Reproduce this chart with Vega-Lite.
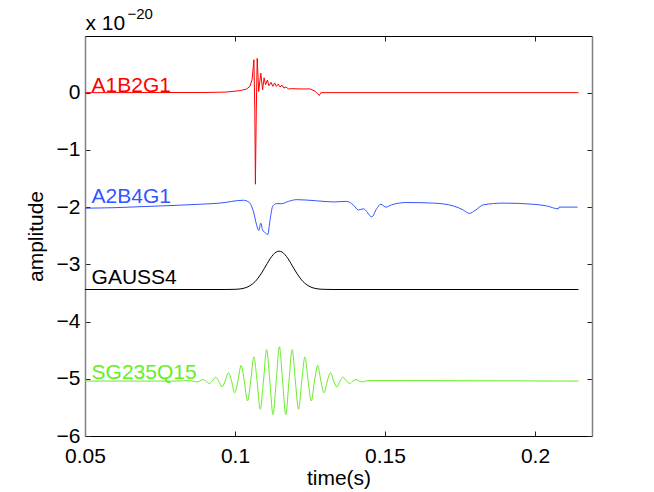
{
 "$schema": "https://vega.github.io/schema/vega-lite/v6.json",
 "width": 507, "height": 400,
 "autosize": "none",
 "padding": {"left": 85, "top": 36, "right": 62, "bottom": 56},
 "background": "white",
 "config": {"view": {"stroke": null}, "axis": {"grid": false, "labelFont": "Liberation Sans", "labelFontSize": 21, "labelColor": "black", "titleFont": "Liberation Sans", "titleFontSize": 21, "titleFontWeight": "normal", "titleColor": "black", "tickColor": "#222222", "tickSize": -5, "labelFlush": false, "labelOverlap": false}},
 "datasets": {
  "lines": [
   {"s":"A1B2G1","t":0.05,"v":0},{"s":"A1B2G1","t":0.09,"v":0.003},{"s":"A1B2G1","t":0.097,"v":0.01},{"s":"A1B2G1","t":0.1017,"v":0.035},{"s":"A1B2G1","t":0.1039,"v":0.065},{"s":"A1B2G1","t":0.105,"v":0.11},{"s":"A1B2G1","t":0.1057,"v":0.23},{"s":"A1B2G1","t":0.1061,"v":0.46},{"s":"A1B2G1","t":0.1063,"v":0.575},{"s":"A1B2G1","t":0.1066,"v":-0.3},{"s":"A1B2G1","t":0.1068,"v":-1.6},{"s":"A1B2G1","t":0.1071,"v":-0.3},{"s":"A1B2G1","t":0.1074,"v":0.6},{"s":"A1B2G1","t":0.1079,"v":0.02},{"s":"A1B2G1","t":0.1086,"v":0.34},{"s":"A1B2G1","t":0.1092,"v":0.05},{"s":"A1B2G1","t":0.1097,"v":0.26},{"s":"A1B2G1","t":0.1102,"v":0.14},{"s":"A1B2G1","t":0.1108,"v":0.22},{"s":"A1B2G1","t":0.1113,"v":0.12},{"s":"A1B2G1","t":0.112,"v":0.18},{"s":"A1B2G1","t":0.1126,"v":0.11},{"s":"A1B2G1","t":0.1132,"v":0.17},{"s":"A1B2G1","t":0.1138,"v":0.11},{"s":"A1B2G1","t":0.1144,"v":0.15},{"s":"A1B2G1","t":0.115,"v":0.1},{"s":"A1B2G1","t":0.1157,"v":0.13},{"s":"A1B2G1","t":0.1163,"v":0.08},{"s":"A1B2G1","t":0.117,"v":0.1},{"s":"A1B2G1","t":0.1178,"v":0.065},{"s":"A1B2G1","t":0.1189,"v":0.07},{"s":"A1B2G1","t":0.1217,"v":0.065},{"s":"A1B2G1","t":0.125,"v":0.065},{"s":"A1B2G1","t":0.1267,"v":0.025},{"s":"A1B2G1","t":0.1281,"v":-0.05},{"s":"A1B2G1","t":0.1286,"v":0},{"s":"A1B2G1","t":0.2145,"v":0},

   {"s":"A2B4G1","t":0.05,"v":-2.02},{"s":"A2B4G1","t":0.06,"v":-2.01},{"s":"A2B4G1","t":0.07,"v":-1.99},{"s":"A2B4G1","t":0.08,"v":-1.97},{"s":"A2B4G1","t":0.0883,"v":-1.95},{"s":"A2B4G1","t":0.095,"v":-1.93},{"s":"A2B4G1","t":0.1028,"v":-1.88},{"s":"A2B4G1","t":0.1048,"v":-1.92},{"s":"A2B4G1","t":0.1061,"v":-2.07},{"s":"A2B4G1","t":0.1072,"v":-2.31},{"s":"A2B4G1","t":0.1079,"v":-2.41},{"s":"A2B4G1","t":0.1086,"v":-2.28},{"s":"A2B4G1","t":0.1092,"v":-2.4},{"s":"A2B4G1","t":0.1101,"v":-2.45},{"s":"A2B4G1","t":0.1109,"v":-2.48},{"s":"A2B4G1","t":0.1117,"v":-2.22},{"s":"A2B4G1","t":0.1126,"v":-1.98},{"s":"A2B4G1","t":0.1139,"v":-1.94},{"s":"A2B4G1","t":0.1156,"v":-1.94},{"s":"A2B4G1","t":0.1178,"v":-1.9},{"s":"A2B4G1","t":0.1206,"v":-1.87},{"s":"A2B4G1","t":0.1272,"v":-1.89},{"s":"A2B4G1","t":0.1328,"v":-1.91},{"s":"A2B4G1","t":0.1372,"v":-1.9},{"s":"A2B4G1","t":0.1394,"v":-1.96},{"s":"A2B4G1","t":0.1411,"v":-2.05},{"s":"A2B4G1","t":0.1428,"v":-2.03},{"s":"A2B4G1","t":0.1456,"v":-2.17},{"s":"A2B4G1","t":0.1472,"v":-2.03},{"s":"A2B4G1","t":0.1486,"v":-1.95},{"s":"A2B4G1","t":0.1503,"v":-2.0},{"s":"A2B4G1","t":0.1522,"v":-1.96},{"s":"A2B4G1","t":0.1572,"v":-1.92},{"s":"A2B4G1","t":0.1661,"v":-1.93},{"s":"A2B4G1","t":0.1728,"v":-1.98},{"s":"A2B4G1","t":0.1761,"v":-2.05},{"s":"A2B4G1","t":0.1781,"v":-2.11},{"s":"A2B4G1","t":0.18,"v":-2.06},{"s":"A2B4G1","t":0.1828,"v":-1.96},{"s":"A2B4G1","t":0.1894,"v":-1.93},{"s":"A2B4G1","t":0.1994,"v":-1.95},{"s":"A2B4G1","t":0.2039,"v":-1.98},{"s":"A2B4G1","t":0.2078,"v":-2.03},{"s":"A2B4G1","t":0.208,"v":-2.0},{"s":"A2B4G1","t":0.2142,"v":-2.0},

   {"s":"GAUSS4","t":0.05,"v":-3.44},{"s":"GAUSS4","t":0.0967,"v":-3.44},{"s":"GAUSS4","t":0.0997,"v":-3.437},{"s":"GAUSS4","t":0.1017,"v":-3.43},{"s":"GAUSS4","t":0.1027,"v":-3.421},{"s":"GAUSS4","t":0.1037,"v":-3.406},{"s":"GAUSS4","t":0.1047,"v":-3.383},{"s":"GAUSS4","t":0.1057,"v":-3.349},{"s":"GAUSS4","t":0.1067,"v":-3.302},{"s":"GAUSS4","t":0.1077,"v":-3.24},{"s":"GAUSS4","t":0.1087,"v":-3.165},{"s":"GAUSS4","t":0.1097,"v":-3.079},{"s":"GAUSS4","t":0.1107,"v":-2.989},{"s":"GAUSS4","t":0.1117,"v":-2.903},{"s":"GAUSS4","t":0.1127,"v":-2.833},{"s":"GAUSS4","t":0.1137,"v":-2.786},{"s":"GAUSS4","t":0.1147,"v":-2.77},{"s":"GAUSS4","t":0.1157,"v":-2.786},{"s":"GAUSS4","t":0.1167,"v":-2.833},{"s":"GAUSS4","t":0.1177,"v":-2.903},{"s":"GAUSS4","t":0.1187,"v":-2.989},{"s":"GAUSS4","t":0.1197,"v":-3.079},{"s":"GAUSS4","t":0.1207,"v":-3.165},{"s":"GAUSS4","t":0.1217,"v":-3.24},{"s":"GAUSS4","t":0.1227,"v":-3.302},{"s":"GAUSS4","t":0.1237,"v":-3.349},{"s":"GAUSS4","t":0.1247,"v":-3.383},{"s":"GAUSS4","t":0.1257,"v":-3.406},{"s":"GAUSS4","t":0.1267,"v":-3.421},{"s":"GAUSS4","t":0.1277,"v":-3.43},{"s":"GAUSS4","t":0.1297,"v":-3.437},{"s":"GAUSS4","t":0.1327,"v":-3.44},{"s":"GAUSS4","t":0.2145,"v":-3.44},

   {"s":"SG235Q15","t":0.05,"v":-5.04},{"s":"SG235Q15","t":0.08,"v":-5.04},
   {"s":"SG235Q15","t":0.085013,"v":-5.032},{"s":"SG235Q15","t":0.086077,"v":-5.04},{"s":"SG235Q15","t":0.087141,"v":-5.055},{"s":"SG235Q15","t":0.088205,"v":-5.04},{"s":"SG235Q15","t":0.089268,"v":-5.014},{"s":"SG235Q15","t":0.090332,"v":-5.04},{"s":"SG235Q15","t":0.091396,"v":-5.082},{"s":"SG235Q15","t":0.09246,"v":-5.04},{"s":"SG235Q15","t":0.093523,"v":-4.973},{"s":"SG235Q15","t":0.094587,"v":-5.04},{"s":"SG235Q15","t":0.095651,"v":-5.142},{"s":"SG235Q15","t":0.096715,"v":-5.04},{"s":"SG235Q15","t":0.097779,"v":-4.893},{"s":"SG235Q15","t":0.098843,"v":-5.04},{"s":"SG235Q15","t":0.099906,"v":-5.245},{"s":"SG235Q15","t":0.10097,"v":-5.04},{"s":"SG235Q15","t":0.102034,"v":-4.768},{"s":"SG235Q15","t":0.103098,"v":-5.04},{"s":"SG235Q15","t":0.104162,"v":-5.387},{"s":"SG235Q15","t":0.105226,"v":-5.04},{"s":"SG235Q15","t":0.106289,"v":-4.618},{"s":"SG235Q15","t":0.107353,"v":-5.04},{"s":"SG235Q15","t":0.108417,"v":-5.533},{"s":"SG235Q15","t":0.109481,"v":-5.04},{"s":"SG235Q15","t":0.110545,"v":-4.49},{"s":"SG235Q15","t":0.111609,"v":-5.04},{"s":"SG235Q15","t":0.112672,"v":-5.627},{"s":"SG235Q15","t":0.113736,"v":-5.04},{"s":"SG235Q15","t":0.1148,"v":-4.44},{"s":"SG235Q15","t":0.115864,"v":-5.04},{"s":"SG235Q15","t":0.116928,"v":-5.627},{"s":"SG235Q15","t":0.117991,"v":-5.04},{"s":"SG235Q15","t":0.119055,"v":-4.49},{"s":"SG235Q15","t":0.120119,"v":-5.04},{"s":"SG235Q15","t":0.121183,"v":-5.533},{"s":"SG235Q15","t":0.122247,"v":-5.04},{"s":"SG235Q15","t":0.123311,"v":-4.618},{"s":"SG235Q15","t":0.124374,"v":-5.04},{"s":"SG235Q15","t":0.125438,"v":-5.387},{"s":"SG235Q15","t":0.126502,"v":-5.04},{"s":"SG235Q15","t":0.127566,"v":-4.768},{"s":"SG235Q15","t":0.12863,"v":-5.04},{"s":"SG235Q15","t":0.129694,"v":-5.245},{"s":"SG235Q15","t":0.130757,"v":-5.04},{"s":"SG235Q15","t":0.131821,"v":-4.893},{"s":"SG235Q15","t":0.132885,"v":-5.04},{"s":"SG235Q15","t":0.133949,"v":-5.142},{"s":"SG235Q15","t":0.135013,"v":-5.04},{"s":"SG235Q15","t":0.136077,"v":-4.973},{"s":"SG235Q15","t":0.13714,"v":-5.04},{"s":"SG235Q15","t":0.138204,"v":-5.082},{"s":"SG235Q15","t":0.139268,"v":-5.04},{"s":"SG235Q15","t":0.140332,"v":-5.014},{"s":"SG235Q15","t":0.141396,"v":-5.04},{"s":"SG235Q15","t":0.14246,"v":-5.055},{"s":"SG235Q15","t":0.143523,"v":-5.04},{"s":"SG235Q15","t":0.144587,"v":-5.032},{"s":"SG235Q15","t":0.2145,"v":-5.04}
  ],
  "labels": [
   {"s":"A1B2G1","t":0.0522,"v":0.01},
   {"s":"A2B4G1","t":0.0522,"v":-1.93},
   {"s":"GAUSS4","t":0.0522,"v":-3.34},
   {"s":"SG235Q15","t":0.0522,"v":-5.0}
  ]
 },
 "resolve": {"axis": {"x": "independent", "y": "independent"}},
 "layer": [
  {
   "data": {"name": "lines"},
   "transform": [{"filter": "datum.s === 'A1B2G1'"}],
   "mark": {"type": "line", "strokeWidth": 1, "interpolate": "linear"},
   "encoding": {
    "x": {"field": "t", "type": "quantitative", "scale": {"domain": [0.05, 0.219], "nice": false, "zero": false},
          "axis": {"orient": "bottom", "values": [0.05, 0.1, 0.15, 0.2], "format": "~g", "title": "time(s)", "domainColor": "black", "labelPadding": 14, "titlePadding": 1}},
    "y": {"field": "v", "type": "quantitative", "scale": {"domain": [-6, 0.99], "nice": false, "zero": false},
          "axis": {"orient": "left", "values": [-6, -5, -4, -3, -2, -1, 0], "title": "amplitude", "domainColor": "#808080", "domainWidth": 1.5, "labelPadding": 10, "titlePadding": 10}},
    "color": {"field": "s", "type": "nominal", "scale": {"domain": ["A1B2G1", "A2B4G1", "GAUSS4", "SG235Q15"], "range": ["#ff0000", "#3355ff", "#000000", "#66ee22"]}, "legend": null}
   }
  },
  {
   "data": {"name": "lines"},
   "transform": [{"filter": "datum.s !== 'A1B2G1'"}],
   "mark": {"type": "line", "strokeWidth": 1, "interpolate": "monotone"},
   "encoding": {
    "x": {"field": "t", "type": "quantitative", "axis": {"orient": "top", "values": [0.05, 0.1, 0.15, 0.2], "labels": false, "title": "x 10", "titleFontSize": 21, "titleX": 0, "titleY": -7, "titleAngle": 0, "titleAlign": "left", "titleBaseline": "alphabetic", "titleAnchor": null, "domainColor": "black"}},
    "y": {"field": "v", "type": "quantitative", "axis": {"orient": "right", "values": [-6, -5, -4, -3, -2, -1, 0], "labels": false, "title": "−20", "titleFontSize": 15, "titleX": -465, "titleY": -18, "titleAngle": 0, "titleAlign": "left", "titleBaseline": "alphabetic", "titleAnchor": null, "domainColor": "#808080", "domainWidth": 1.5}},
    "color": {"field": "s", "type": "nominal", "legend": null}
   }
  },
  {
   "data": {"name": "labels"},
   "mark": {"type": "text", "align": "left", "baseline": "alphabetic", "fontSize": 21, "font": "Liberation Sans"},
   "encoding": {
    "x": {"field": "t", "type": "quantitative", "axis": null},
    "y": {"field": "v", "type": "quantitative", "axis": null},
    "text": {"field": "s"},
    "color": {"field": "s", "type": "nominal", "legend": null}
   }
  }
 ]
}
